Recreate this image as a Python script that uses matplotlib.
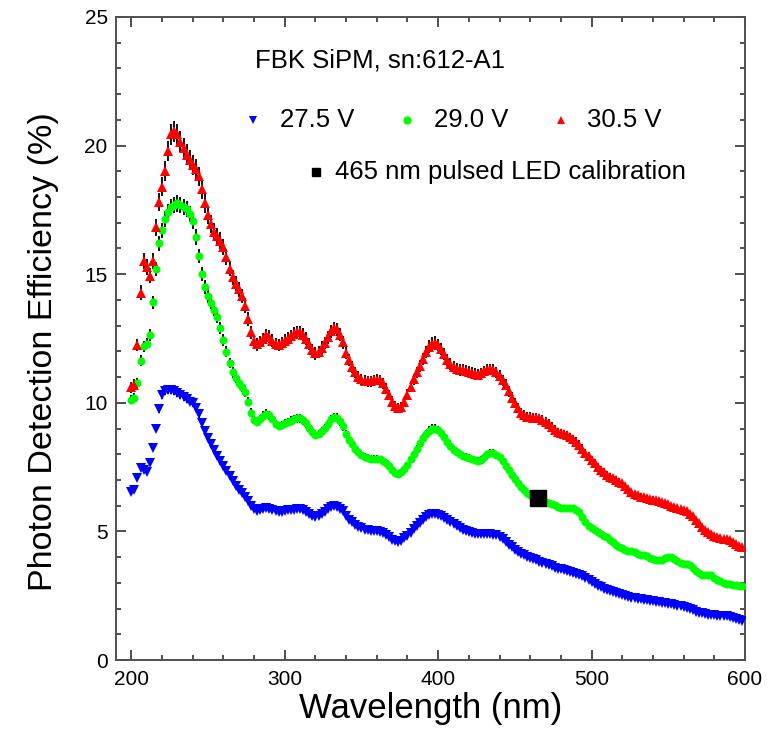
import numpy as np
import matplotlib
matplotlib.use('Agg')
import matplotlib.pyplot as plt

plt.rcParams['font.family'] = ['Liberation Sans', 'DejaVu Sans']

# wavelength grid (nm), 2 nm steps
wavelength = np.arange(200, 600, 2)

# PDE (%) at 27.5 V
pde_275 = [
    6.55, 6.60, 7.06, 7.45, 7.38, 7.30, 7.65, 8.25, 9.00, 9.75,
    10.30, 10.45, 10.50, 10.48, 10.45, 10.40, 10.30, 10.22, 10.15, 10.05,
    9.98, 9.80, 9.55, 9.20, 8.90, 8.62, 8.38, 8.15, 7.95, 7.75,
    7.55, 7.35, 7.15, 6.95, 6.78, 6.62, 6.48, 6.33, 6.17, 6.00,
    5.88, 5.80, 5.82, 5.86, 5.90, 5.86, 5.82, 5.78, 5.75, 5.76,
    5.80, 5.82, 5.83, 5.85, 5.86, 5.86, 5.82, 5.76, 5.68, 5.60,
    5.57, 5.60, 5.66, 5.75, 5.86, 5.94, 5.97, 5.96, 5.88, 5.78,
    5.60, 5.45, 5.35, 5.26, 5.19, 5.12, 5.07, 5.04, 5.02, 5.01,
    5.00, 4.98, 4.93, 4.87, 4.77, 4.66, 4.61, 4.60, 4.64, 4.73,
    4.82, 4.95, 5.08, 5.20, 5.33, 5.46, 5.55, 5.62, 5.66, 5.67,
    5.65, 5.60, 5.52, 5.44, 5.36, 5.28, 5.20, 5.12, 5.06, 5.01,
    4.98, 4.93, 4.91, 4.90, 4.90, 4.90, 4.90, 4.89, 4.87, 4.85,
    4.79, 4.70, 4.57, 4.47, 4.38, 4.28, 4.20, 4.13, 4.07, 4.02,
    3.97, 3.92, 3.87, 3.82, 3.77, 3.73, 3.68, 3.64, 3.59, 3.55,
    3.52, 3.48, 3.45, 3.42, 3.39, 3.36, 3.31, 3.25, 3.19, 3.10,
    3.03, 2.96, 2.89, 2.83, 2.77, 2.72, 2.67, 2.63, 2.59, 2.55,
    2.52, 2.48, 2.45, 2.43, 2.41, 2.38, 2.36, 2.34, 2.32, 2.31,
    2.29, 2.27, 2.25, 2.23, 2.21, 2.19, 2.16, 2.13, 2.11, 2.09,
    2.07, 2.04, 1.99, 1.93, 1.88, 1.84, 1.81, 1.78, 1.76, 1.75,
    1.74, 1.73, 1.72, 1.71, 1.70, 1.68, 1.64, 1.60, 1.56, 1.53,
]

# PDE (%) at 29.0 V
pde_290 = [
    10.12, 10.20, 10.78, 11.64, 12.20, 12.30, 12.64, 13.90, 15.20, 16.20,
    16.70, 17.15, 17.43, 17.62, 17.70, 17.75, 17.70, 17.62, 17.52, 17.35,
    17.05, 16.45, 15.70, 15.00, 14.50, 14.15, 13.88, 13.62, 13.35, 12.90,
    12.45, 11.99, 11.55, 11.18, 10.95, 10.78, 10.60, 10.42, 10.05, 9.62,
    9.35, 9.26, 9.36, 9.50, 9.58, 9.52, 9.38, 9.18, 9.10, 9.14,
    9.20, 9.25, 9.30, 9.36, 9.40, 9.40, 9.32, 9.20, 9.02, 8.85,
    8.76, 8.78, 8.90, 9.02, 9.18, 9.36, 9.45, 9.42, 9.28, 9.08,
    8.80, 8.56, 8.38, 8.20, 8.07, 7.98, 7.90, 7.86, 7.83, 7.82,
    7.82, 7.80, 7.75, 7.66, 7.54, 7.40, 7.29, 7.25, 7.30, 7.42,
    7.58, 7.80, 8.00, 8.20, 8.42, 8.62, 8.78, 8.92, 9.00, 9.00,
    8.93, 8.82, 8.66, 8.48, 8.32, 8.18, 8.07, 8.00, 7.95, 7.91,
    7.86, 7.80, 7.76, 7.74, 7.78, 7.88, 8.00, 8.06, 8.06, 7.98,
    7.88, 7.74, 7.55, 7.37, 7.20, 7.04, 6.88, 6.74, 6.60, 6.49,
    6.42, 6.37, 6.32, 6.27, 6.21, 6.15, 6.10, 6.05, 6.01, 5.96,
    5.92, 5.90, 5.90, 5.91, 5.90, 5.84, 5.74, 5.55, 5.36, 5.22,
    5.12, 5.04, 4.97, 4.90, 4.84, 4.77, 4.68, 4.58, 4.48, 4.40,
    4.34, 4.29, 4.25, 4.22, 4.18, 4.14, 4.10, 4.07, 4.03, 3.98,
    3.93, 3.89, 3.87, 3.90, 3.97, 4.02, 4.00, 3.92, 3.83, 3.77,
    3.74, 3.72, 3.68, 3.58, 3.46, 3.37, 3.32, 3.30, 3.32, 3.30,
    3.20, 3.12, 3.06, 3.01, 2.97, 2.95, 2.93, 2.91, 2.89, 2.88,
]

# PDE (%) at 30.5 V
pde_305 = [
    10.60, 10.70, 12.25, 14.28, 15.50, 15.27, 14.94, 15.50, 16.82, 17.80,
    18.40, 19.02, 19.80, 20.45, 20.55, 20.45, 20.15, 19.90, 19.65, 19.45,
    19.25, 19.10, 18.80, 18.30, 17.75, 17.30, 16.95, 16.65, 16.48, 16.30,
    16.05, 15.68, 15.22, 14.88, 14.62, 14.42, 14.15, 13.78, 13.25, 12.75,
    12.40, 12.27, 12.35, 12.48, 12.62, 12.57, 12.42, 12.28, 12.25, 12.32,
    12.42, 12.50, 12.58, 12.68, 12.75, 12.74, 12.65, 12.50, 12.28, 12.05,
    11.92, 11.98, 12.15, 12.32, 12.55, 12.78, 12.90, 12.85, 12.65, 12.35,
    11.95, 11.65, 11.38, 11.18, 11.02, 10.92, 10.86, 10.83, 10.83, 10.87,
    10.90, 10.88, 10.76, 10.55, 10.30, 10.05, 9.86, 9.78, 9.85, 10.02,
    10.32, 10.62, 10.92, 11.18, 11.42, 11.72, 11.98, 12.18, 12.30, 12.34,
    12.25, 12.10, 11.90, 11.68, 11.50, 11.38, 11.32, 11.28, 11.27, 11.24,
    11.21, 11.16, 11.12, 11.10, 11.14, 11.22, 11.28, 11.30, 11.28, 11.18,
    11.05, 10.88, 10.70, 10.45, 10.20, 10.00, 9.80, 9.62, 9.52, 9.46,
    9.44, 9.42, 9.41, 9.39, 9.33, 9.26, 9.18, 9.06, 8.94, 8.86,
    8.81, 8.78, 8.74, 8.67, 8.58, 8.49, 8.37, 8.22, 8.06, 7.92,
    7.78, 7.65, 7.52, 7.40, 7.30, 7.20, 7.12, 7.06, 7.00, 6.94,
    6.87, 6.76, 6.63, 6.52, 6.45, 6.40, 6.35, 6.32, 6.30, 6.27,
    6.24, 6.21, 6.18, 6.14, 6.10, 6.05, 6.00, 5.95, 5.91, 5.87,
    5.83, 5.79, 5.68, 5.58, 5.46, 5.32, 5.18, 5.06, 4.96, 4.88,
    4.82, 4.77, 4.74, 4.72, 4.70, 4.67, 4.60, 4.52, 4.45, 4.40,
]

# relative uncertainty per bias voltage
rel_err = [0.015, 0.018, 0.020]

# LED calibration point
led_wl = [465]
led_pde = [6.3]

labels = ['27.5 V', '29.0 V', '30.5 V']
colors = ['#0000ff', '#00ff00', '#ff0000']
markers = ['v', 'o', '^']
series = [pde_275, pde_290, pde_305]

fig = plt.figure(figsize=(7.72, 7.29), dpi=100)
ax = fig.add_axes([116 / 772, 1 - 660 / 729, 629 / 772, 643 / 729])

for vals, err, col, mk in zip(series, rel_err, colors, markers):
    vals = np.array(vals)
    ax.errorbar(wavelength, vals, yerr=vals * err, fmt='none',
                ecolor='black', elinewidth=1.3, capsize=0, zorder=2)
    ax.plot(wavelength, vals, linestyle='none', marker=mk, color=col,
            markersize=6.5 if mk != 'o' else 5.8, markeredgewidth=0,
            zorder=3)

ax.plot(led_wl, led_pde, linestyle='none', marker='s', color='black',
        markersize=11, zorder=4)

ax.set_xlim(190, 600)
ax.set_ylim(0, 25)
ax.set_xticks([200, 300, 400, 500, 600])
ax.set_xticks(np.arange(200, 601, 20), minor=True)
ax.set_yticks([0, 5, 10, 15, 20, 25])
ax.set_yticks(np.arange(0, 26, 1), minor=True)

ax.tick_params(which='both', direction='in', top=True, right=True,
               color='#303030', width=1.2)
ax.tick_params(which='major', length=7, labelsize=15)
ax.tick_params(which='minor', length=3.6)
ax.tick_params(axis='x', which='major', pad=7)
ax.tick_params(axis='y', which='major', pad=6)
for sp in ax.spines.values():
    sp.set_color('#505050')
    sp.set_linewidth(1.4)

ax.set_xlabel('Wavelength (nm)', fontsize=25)
ax.set_ylabel('Photon Detection Efficiency (%)', fontsize=24.5)
ax.xaxis.set_label_coords(0.5, -0.05)
ax.yaxis.set_label_coords(-0.091, 0.48)

# legend drawn by hand like the ROOT original
ax.text(0.221, 0.921, 'FBK SiPM, sn:612-A1', transform=ax.transAxes,
        fontsize=18.5, va='baseline', ha='left')
leg_x = [0.218, 0.463, 0.707]
for lx, lab, col, mk in zip(leg_x, labels, colors, markers):
    ax.plot([lx], [0.840], transform=ax.transAxes, linestyle='none',
            marker=mk, color=col, markersize=6, markeredgewidth=0,
            clip_on=False)
    ax.text(lx + 0.042, 0.840, lab, transform=ax.transAxes,
            fontsize=18.5, va='center', ha='left')
ax.plot([0.318], [0.759], transform=ax.transAxes, linestyle='none',
        marker='s', color='black', markersize=6, clip_on=False)
ax.text(0.348, 0.759, '465 nm pulsed LED calibration',
        transform=ax.transAxes, fontsize=18.5, va='center', ha='left')

fig.savefig('out.png', dpi=100)
